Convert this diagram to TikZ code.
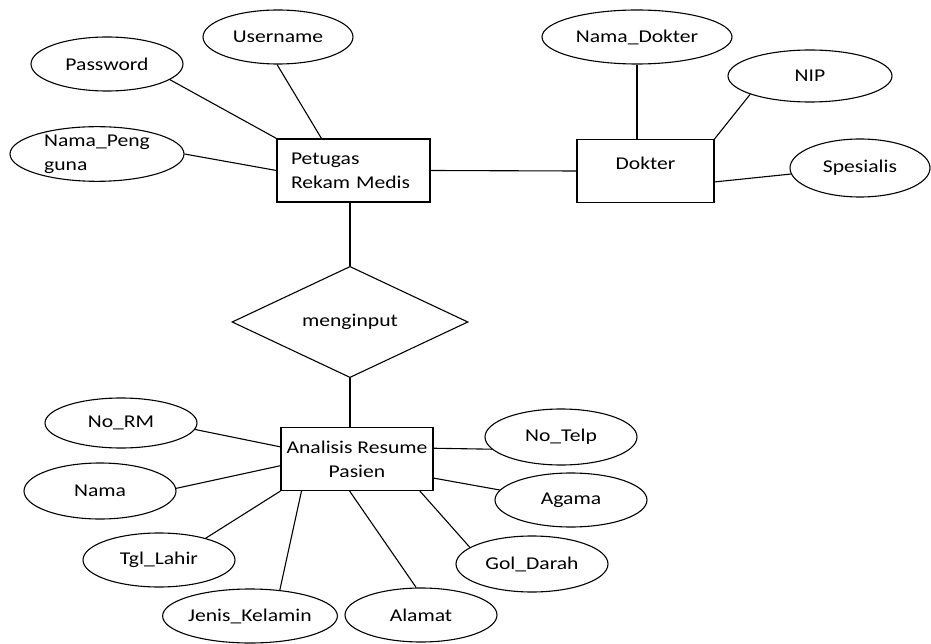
\documentclass[tikz,border=0pt]{standalone}
\usepackage{fontspec}
\setmainfont[FakeStretch=1.2]{Carlito}
\usetikzlibrary{shapes.geometric}

\begin{document}
\begin{tikzpicture}[
  x=1pt, y=-1pt,
  font=\fontsize{18}{24}\selectfont,
  line width=1.1pt,
  ent/.style={draw, rectangle, inner sep=0pt, minimum width=153pt, minimum height=63pt},
  attr/.style={draw, ellipse, inner sep=0pt, minimum width=152pt, minimum height=54pt},
  rel/.style={draw, diamond, inner sep=0pt, minimum width=236pt, minimum height=69pt},
]
\useasboundingbox (0,0) rectangle (931,644);

% --- entities ---
\node[ent, align=left, text width=125pt] (pet) at (353.5,170.5) {Petugas\\Rekam Medis};
\node[ent, minimum width=137pt, text depth=16pt] (dok) at (645.5,171) {Dokter};
\node[ent, minimum width=152pt, align=center] (ars) at (357,459) {Analisis Resume\\Pasien};

% --- relationship ---
\node[rel] (mgi) at (350,322) {menginput};

% --- attributes of Petugas Rekam Medis ---
\node[attr, minimum width=150pt] (usr) at (278,37) {Username};
\node[attr] (pwd) at (107,64) {Password};
\node[attr, minimum width=174pt, align=left] (npg) at (97,154) {Nama\_Peng\\guna};

% --- attributes of Dokter ---
\node[attr, minimum width=190pt] (ndk) at (637,37) {Nama\_Dokter};
\node[attr, minimum width=164pt, minimum height=52pt] (nip) at (810,76) {NIP};
\node[attr, minimum width=140pt, minimum height=58pt] (sps) at (860,168) {Spesialis};

% --- attributes of Analisis Resume Pasien ---
\node[attr, minimum height=50pt] (nrm) at (121,423) {No\_RM};
\node[attr, minimum height=56pt] (nma) at (100,491) {Nama};
\node[attr] (tgl) at (159,560) {Tgl\_Lahir};
\node[attr, minimum width=150pt] (jkl) at (250,616) {Jenis\_Kelamin};
\node[attr] (alm) at (421,615) {Alamat};
\node[attr, minimum height=56pt] (ntp) at (561,437) {No\_Telp};
\node[attr] (agm) at (571,500) {Agama};
\node[attr, minimum height=56pt] (gdr) at (532,564) {Gol\_Darah};

% --- links ---
\draw (pwd.346) -- (pet.north west);
\draw (usr.268) -- (pet.135);
\draw (npg.east) -- (pet.west);
\draw (pet.east) -- (dok.west);
\draw (ndk.south) -- (ndk.south |- dok.north);
\draw (nip.197) -- (dok.north east);
\draw (sps.185) -- (dok.351);
\draw (mgi.north) -- (mgi.north |- pet.south);
\draw (mgi.south) -- (mgi.south |- ars.north);
\draw (nrm.355) -- (ars.171);
\draw (nma.2) -- (ars.185);
\draw (tgl.25) -- (ars.south west);
\draw (jkl.41) -- (ars.210);
\draw (alm.100) -- (ars.257);
\draw (ntp.190) -- (ars.8);
\draw (agm.172) -- (ars.346);
\draw (gdr.165) -- (ars.333);

\end{tikzpicture}
\end{document}
